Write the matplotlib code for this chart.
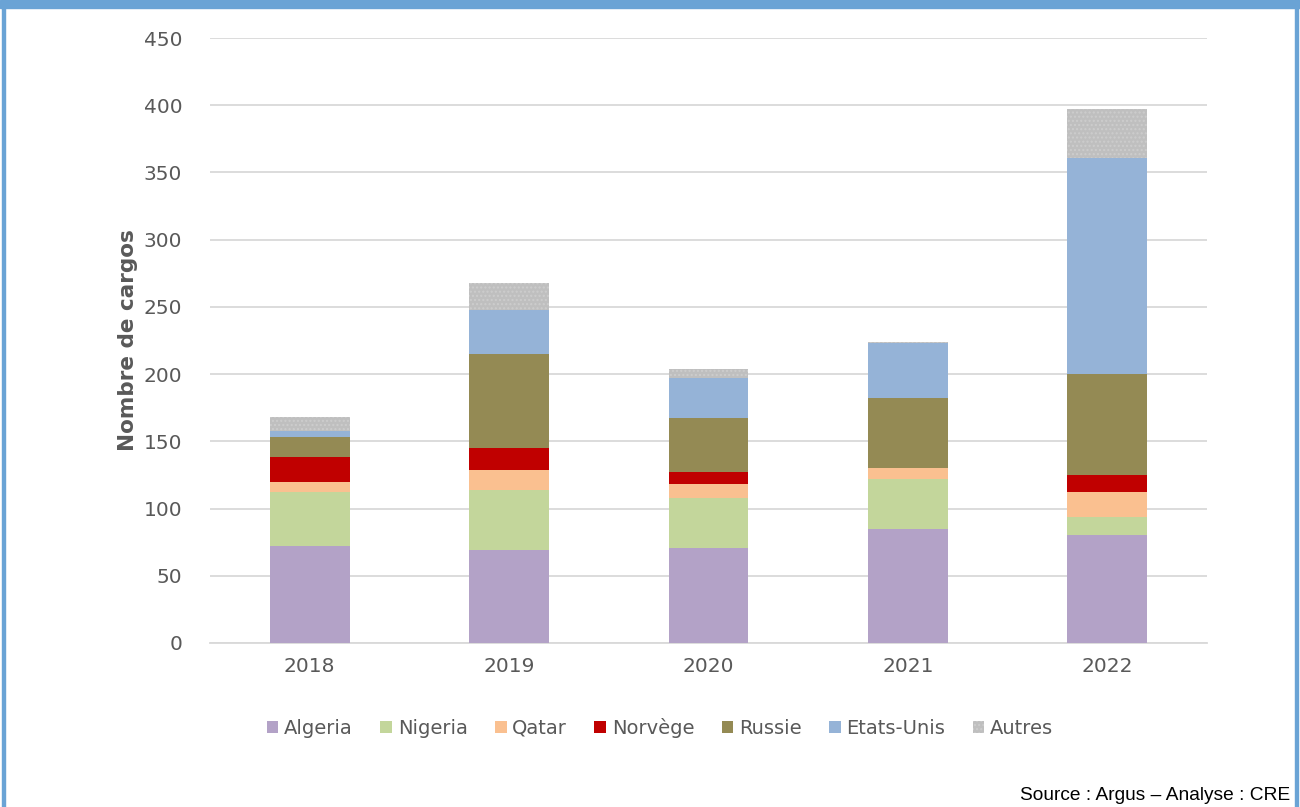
import matplotlib.pyplot as plt
import numpy as np
from matplotlib.patches import Rectangle

annees = ["2018", "2019", "2020", "2021", "2022"]
pays = ["Algeria", "Nigeria", "Qatar", "Norvège", "Russie", "Etats-Unis", "Autres"]
algeria = [72, 69, 71, 85, 80]
nigeria = [40, 45, 37, 37, 14]
qatar = [8, 15, 10, 8, 18]
norvege = [18, 16, 9, 0, 13]
russie = [15, 70, 40, 52, 75]
etats_unis = [5, 33, 30, 41, 161]
autres = [10, 20, 7, 1, 36]
series = [algeria, nigeria, qatar, norvege, russie, etats_unis, autres]
couleurs = ["#B3A2C7", "#C3D69B", "#FAC090", "#C00000", "#948A54", "#95B3D7", "#BFBFBF"]

fig = plt.figure(figsize=(13, 8.07), dpi=100)
ax = fig.add_axes([210 / 1300, 1 - 643 / 807, 997 / 1300, 605 / 807])

x = np.arange(len(annees))
bas = np.zeros(len(annees))
for nom, vals, c in zip(pays, series, couleurs):
    kw = {}
    if nom == "Autres":
        kw = dict(hatch="....", edgecolor="#CDCDCD", linewidth=0)
    ax.bar(x, vals, 0.4, bottom=bas, color=c, label=nom, zorder=3, **kw)
    bas += np.array(vals)

ax.set_xlim(-0.5, 4.5)
ax.set_ylim(0, 450)
ax.set_yticks(range(0, 451, 50))
ax.set_xticks(x)
ax.set_xticklabels(annees)
ax.grid(axis="y", color="#D9D9D9", linewidth=1.3, zorder=0)
for s in ["top", "right", "left"]:
    ax.spines[s].set_visible(False)
ax.spines["bottom"].set_color("#D9D9D9")
ax.spines["bottom"].set_linewidth(1.3)
ax.tick_params(length=0, labelsize=14.5, colors="#595959", pad=10)
ax.tick_params(axis="y", pad=20)
ax.set_ylabel("Nombre de cargos", fontsize=15.5, fontweight="bold", color="#595959", labelpad=4)

leg = ax.legend(loc="upper center", bbox_to_anchor=(450 / 997, -0.095), ncol=7, frameon=False,
                fontsize=14, handlelength=0.6, handleheight=0.6, handletextpad=0.3,
                columnspacing=1.4)
for t in leg.get_texts():
    t.set_color("#595959")

fig.text(1290 / 1300, 1 - 796 / 807, "Source : Argus – Analyse : CRE", ha="right", va="center",
         fontsize=13.8, family="Liberation Sans")

bleu = "#6AA3D5"
fig.patches.append(Rectangle((0, 1 - 8 / 807), 1, 8 / 807, transform=fig.transFigure, color=bleu))
fig.patches.append(Rectangle((2 / 1300, 0), 3 / 1300, 1, transform=fig.transFigure, color=bleu))
fig.patches.append(Rectangle((1295 / 1300, 0), 3 / 1300, 1, transform=fig.transFigure, color=bleu))

fig.savefig("out.png", dpi=100)
